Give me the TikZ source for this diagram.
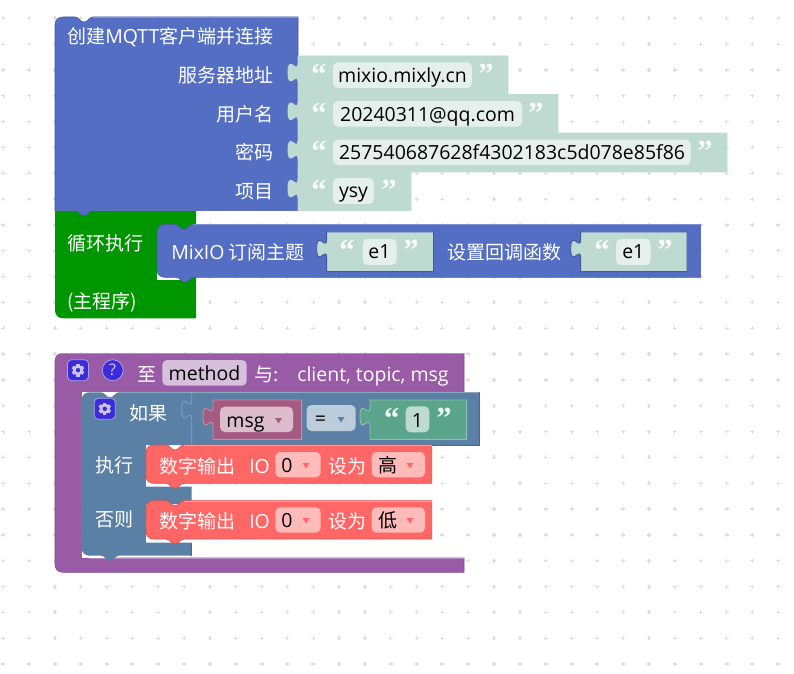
\documentclass[tikz,border=0pt]{standalone}
\usepackage{fontspec}
\setmainfont{Noto Sans CJK SC}
\newfontfamily\quotefont{Liberation Serif}
\newfontfamily\helpfont{Noto Sans}
\newfontfamily\latfont{Open Sans}
\definecolor{mqttblue}{HTML}{546EC3}
\definecolor{mqttdark}{HTML}{445AA0}
\definecolor{mqttlight}{HTML}{7E90D2}
\definecolor{loopgreen}{HTML}{009600}
\definecolor{textval}{HTML}{BFDAD0}
\definecolor{textfield}{HTML}{E5F0EC}
\definecolor{procpurple}{HTML}{995BA5}
\definecolor{procdark}{HTML}{7D4A87}
\definecolor{proclight}{HTML}{B78CC0}
\definecolor{procfield}{HTML}{D6C0DC}
\definecolor{logicblue}{HTML}{5B80A5}
\definecolor{logicdark}{HTML}{4A6987}
\definecolor{logiclight}{HTML}{8CA6C0}
\definecolor{logicfield}{HTML}{BDCCDB}
\definecolor{varred}{HTML}{A55B80}
\definecolor{varlight}{HTML}{C08CA6}
\definecolor{varfield}{HTML}{DBBDCC}
\definecolor{strgreen}{HTML}{5BA58C}
\definecolor{strlight}{HTML}{8CC0AE}
\definecolor{strfield}{HTML}{BDDBD1}
\definecolor{iored}{HTML}{FF6666}
\definecolor{iodark}{HTML}{D15454}
\definecolor{iolight}{HTML}{FF9A9A}
\definecolor{iofield}{HTML}{FFBABA}
\definecolor{gearblue}{HTML}{3D2BDA}
\definecolor{gearedge}{HTML}{A9A2EE}
\definecolor{gearwheel}{HTML}{C9C4F4}

% Latin text runs at a slightly larger size than the CJK text around it
\newcommand{\latin}{\latfont\fontsize{14.6}{14.6}\selectfont}

% Path fragments: dip in a top edge (going right), bump on a bottom edge (going left),
% puzzle tab on a left edge (going up)
\def\notchdip{.. controls +(4,0) and +(-4,0) .. ++(9,5) .. controls +(4,0) and +(-4,0) .. ++(9,-5)}
\def\notchbump{.. controls +(-4,0) and +(4,0) .. ++(-9,5) .. controls +(-4,0) and +(4,0) .. ++(-9,-5)}
\def\tabup{.. controls +(0,-12.5) and +(0,19.4) .. ++(-10,-9.4) .. controls +(0,-19.4) and +(0,12.5) .. ++(10,-9.4)}

% Value block with a left tab: x, y, right, bottom, colour, border
\newcommand{\valueblock}[6]{%
  \path[fill=#5,draw=#6,line width=.7pt] (#1,#2) -- (#3,#2) -- (#3,#4) -- (#1,#4)
    -- (#1,#2+26) \tabup -- cycle;}
% Rounded statement block with top dip and bottom bump: left, top, right, bottom
\newcommand{\stmtblock}[4]{%
  \fill[white] (#1,#2+8) -- (#1,#4+2.5) -- (#1+26,#4+2.5) -- (#1+26,#2+8) -- cycle;
  \path[fill=iored,draw=iodark,line width=.5pt]
    (#1,#2+8) .. controls +(0,-5) and +(-5,0) .. (#1+8,#2) -- (#1+20,#2) \notchdip
    -- (#3,#2) -- (#3,#4) -- (#1+38,#4) \notchbump -- (#1+8,#4)
    .. controls +(-5,0) and +(0,5) .. (#1,#4-8) -- cycle;
  \draw[iolight,line width=.7pt] (#1+38,#2+.3) -- (#3,#2+.3);}
% Gear button centred on x, y
\newcommand{\gearbutton}[2]{%
  \filldraw[fill=gearblue,draw=gearedge,line width=.6pt,rounded corners=3pt]
    (#1-10.5,#2-10.5) rectangle (#1+10.5,#2+10.5);
  \draw[gearwheel,line width=2pt] (#1,#2) circle[radius=3.8];
  \foreach \a in {30,90,...,330}
    \draw[gearwheel,line width=2.4pt] (#1,#2) ++(\a:4.4) -- ++(\a:1.9);}
% Dropdown arrow centred on x, y
\newcommand{\droparrow}[3]{%
  \fill[#3] (#1-3.5,#2-2.5) -- (#1+3.5,#2-2.5) -- (#1,#2+3) -- cycle;}

\tikzset{
  field/.style={rounded corners=3.6pt},
  wlabel/.style={anchor=base west,inner sep=0pt,text=white,yshift=-.75pt,font=\fontsize{14.25}{14.25}\selectfont},
  wlatin/.style={wlabel,font=\latin},
  wright/.style={wlabel,anchor=base east},
  blabel/.style={anchor=base,inner sep=0pt,text=black,font=\latin},
  bcjk/.style={anchor=base,inner sep=0pt,text=black,font=\fontsize{14.25}{14.25}\selectfont},
  qmark/.style={anchor=base,inner sep=0pt,text=white,opacity=.9,font=\quotefont\bfseries\fontsize{23}{23}\selectfont},
}

\begin{document}
\begin{tikzpicture}[x=.75pt,y=-.75pt]
\useasboundingbox (0,0) rectangle (794,674);

% workspace grid
\foreach \i in {0,...,30}
  \foreach \j in {0,...,25}
    \draw[black!13,line width=.9pt] ({3.3+25.83*\i-2},{18.3+25.83*\j}) -- ++(4,0)
      ({3.3+25.83*\i},{18.3+25.83*\j-2}) -- ++(0,4);

% ---- loop block (below the client block so the bump overlaps it)
\path[fill=loopgreen] (55,211) -- (196,211) -- (196,318.3) -- (63,318.3)
  .. controls +(-5,0) and +(0,5) .. (55,310) -- cycle;

% ---- MQTT client block
\path[fill=mqttblue,draw=mqttdark,line width=.4pt]
  (55,25) .. controls +(0,-5) and +(-5,0) .. (63,17) -- (75,17) \notchdip
  -- (298,17) -- (298,210.7) -- (93,210.7) \notchbump -- (55,210.7) -- cycle;
\draw[mqttlight,line width=.6pt] (93,17.3) -- (298,17.3);

\valueblock{298}{56}{508}{94.7}{textval}{textval}
\valueblock{298}{94.7}{558}{133.2}{textval}{textval}
\valueblock{298}{133.2}{727}{172}{textval}{textval}
\valueblock{298}{172}{411}{210.7}{textval}{textval}

\fill[textfield,field] (333,62.3) rectangle (472,88);
\fill[textfield,field] (333,101) rectangle (522,126.7);
\fill[textfield,field] (333,139.7) rectangle (690.7,165);
\fill[textfield,field] (333,178) rectangle (374,204);

\node[wlabel] (title) at (67,43) {创建{\latin MQTT}客户端并连接};
\node[wright] (lserver) at (274,82) {服务器地址};
\node[wright] (luser) at (274,121) {用户名};
\node[wright] (lpass) at (274,159) {密码};
\node[wright] (lproj) at (274,198) {项目};

\node[qmark] (q1a) at (319,85) {“};
\node[qmark] (q1b) at (486,85) {”};
\node[qmark] (q2a) at (319,123.5) {“};
\node[qmark] (q2b) at (536,123.5) {”};
\node[qmark] (q3a) at (319,162) {“};
\node[qmark] (q3b) at (705,162) {”};
\node[qmark] (q4a) at (319,200.5) {“};
\node[qmark] (q4b) at (389,200.5) {”};

\node[blabel] (vserver) at (402.5,82.3) {mixio.mixly.cn};
\node[blabel] (vuser) at (427.5,121.5) {20240311@qq.com};
\node[blabel] (vpass) at (512,159.3) {257540687628f4302183c5d078e85f86};
\node[blabel] (vproj) at (353.5,198) {ysy};

\node[wlabel] (loopa) at (67,250) {循环执行};
\node[wlabel] (loopb) at (67,307) {(主程序)};

% subscribe block inside the loop
\fill[white] (157,232) -- (157,280) -- (185,280) -- (185,232) -- cycle;
\path[fill=mqttblue,draw=mqttdark,line width=.4pt]
  (157,232) .. controls +(0,-5) and +(-5,0) .. (165,224.3) -- (175,224.3) \notchdip
  -- (700.7,224.3) -- (700.7,277.3) -- (194,277.3) \notchbump -- (165,277.3)
  .. controls +(-5,0) and +(0,5) .. (157,269.3) -- cycle;
\draw[mqttlight,line width=.6pt] (193,224.6) -- (700.7,224.6);

\valueblock{326.7}{232}{433.5}{271.6}{textval}{mqttdark}
\valueblock{580.7}{232}{687}{271.6}{textval}{mqttdark}
\fill[textfield,field] (362.7,239) rectangle (396.7,265);
\fill[textfield,field] (616,239) rectangle (650.7,265);
\node[wlabel] (lsub) at (171,258) {{\latin MixIO} 订阅主题};
\node[wlabel] (lcb) at (447,258) {设置回调函数};
\node[qmark] (q5a) at (347,261) {“};
\node[qmark] (q5b) at (411,261) {”};
\node[qmark] (q6a) at (602,261) {“};
\node[qmark] (q6b) at (665,261) {”};
\node[blabel] (vtopic) at (379.5,258) {e1};
\node[blabel] (vfunc) at (633.3,258) {e1};

% ---- procedure block
\path[fill=procpurple,draw=procdark,line width=.4pt]
  (55,361.3) .. controls +(0,-5) and +(-5,0) .. (63,353.3) -- (464,353.3) -- (464,391.7)
  -- (81.7,391.7) -- (81.7,558) -- (464,558) -- (464,572.3) -- (63,572.3)
  .. controls +(-5,0) and +(0,5) .. (55,564.3) -- cycle;
\draw[proclight,line width=.6pt] (60,353.6) -- (464,353.6);
\draw[proclight,line width=.6pt] (89,558.3) -- (464,558.3);

\gearbutton{78}{370.2}
\filldraw[fill=gearblue,draw=gearedge,line width=.6pt] (112.7,370.2) circle[radius=10.5];
\node[anchor=center,inner sep=0pt,text=gearwheel,font=\helpfont\bfseries\fontsize{12}{12}\selectfont] (help) at (112.7,370.2) {?};
\fill[procfield,field] (162.3,360) rectangle (246.7,385.7);
\node[wlabel] (lto) at (137.5,380.5) {至};
\node[blabel] (vmethod) at (204.5,380.7) {method};
\node[wlabel] (lwith) at (254,380.5) {与:};
\node[wlatin] (lparams) at (297,380.3) {client, topic, msg};

% ---- if/else block
\fill[white] (82,500) -- (82,558) -- (112,558) -- (112,500) -- cycle;
\path[fill=logicblue]
  (81.7,400.3) .. controls +(0,-5) and +(-5,0) .. (89.7,392.3) -- (101,392.3) \notchdip
  -- (479.7,392.3) -- (479.7,445) -- (191.7,445) -- (146,445) -- (146,486.7) -- (191.7,486.7)
  -- (191.7,504) -- (146,504) -- (146,542.7) -- (191.7,542.7) -- (191.7,555.7)
  -- (119,555.7) \notchbump -- (89.7,555.7)
  .. controls +(-5,0) and +(0,5) .. (81.7,547.7) -- cycle;
\draw[logiclight,line width=.6pt] (119,392.6) -- (479.7,392.6);
\draw[logiclight,line width=.5pt] (191.7,445) -- (191.7,419) \tabup -- (191.7,393);
\draw[logicdark,line width=.7pt] (191.7,445) -- (479.7,445) -- (479.7,392.3);
\draw[logicdark,line width=.7pt] (191.7,555.7) -- (191.7,542.7);

\gearbutton{104.8}{408.8}
\node[wlabel] (lif) at (129,419.5) {如果};
\node[wlabel] (lthen) at (95,471) {执行};
\node[wlabel] (lelse) at (95,525.7) {否则};

% condition: variable, operator, text
\valueblock{213}{400}{301.7}{439.3}{varred}{varlight}
\fill[varfield,field] (220,406.7) rectangle (293,432);
\node[blabel] (vmsg) at (245.5,427.3) {msg};
\droparrow{278.5}{420.5}{varred}
\fill[logicfield,field] (306.7,405) rectangle (355.7,431);
\node[blabel] (vop) at (320.5,425.5) {=};
\droparrow{341}{419.5}{logicblue}
\valueblock{370}{400}{466.7}{439.3}{strgreen}{strlight}
\fill[strfield,field] (405.7,406.3) rectangle (429.3,432.3);
\node[qmark] (q7a) at (391.7,428.5) {“};
\node[qmark] (q7b) at (444,428.5) {”};
\node[blabel] (vone) at (417.5,427) {1};

% digital output blocks
\stmtblock{146}{445}{431.7}{483.3}
\stmtblock{146}{500.7}{431.7}{539}
\fill[iofield,field] (275.3,452) rectangle (320.7,477.3);
\fill[iofield,field] (371.7,452) rectangle (425,477.3);
\fill[iofield,field] (275.3,507.3) rectangle (320.7,532.7);
\fill[iofield,field] (371.7,507.3) rectangle (425,532.7);
\node[wlabel] (lout1) at (159,472) {数字输出};
\node[wlatin] (lio1) at (249,472) {IO};
\node[blabel] (vpin1) at (287,472) {0};
\droparrow{306}{465.5}{iored}
\node[wlabel] (lset1) at (328,472) {设为};
\node[bcjk] (vhigh) at (388,472) {高};
\droparrow{410}{465.5}{iored}
\node[wlabel] (lout2) at (159,527) {数字输出};
\node[wlatin] (lio2) at (249,527) {IO};
\node[blabel] (vpin2) at (287,527) {0};
\droparrow{306}{520.5}{iored}
\node[wlabel] (lset2) at (328,527) {设为};
\node[bcjk] (vlow) at (388,527) {低};
\droparrow{410}{520.5}{iored}
\end{tikzpicture}
\end{document}
